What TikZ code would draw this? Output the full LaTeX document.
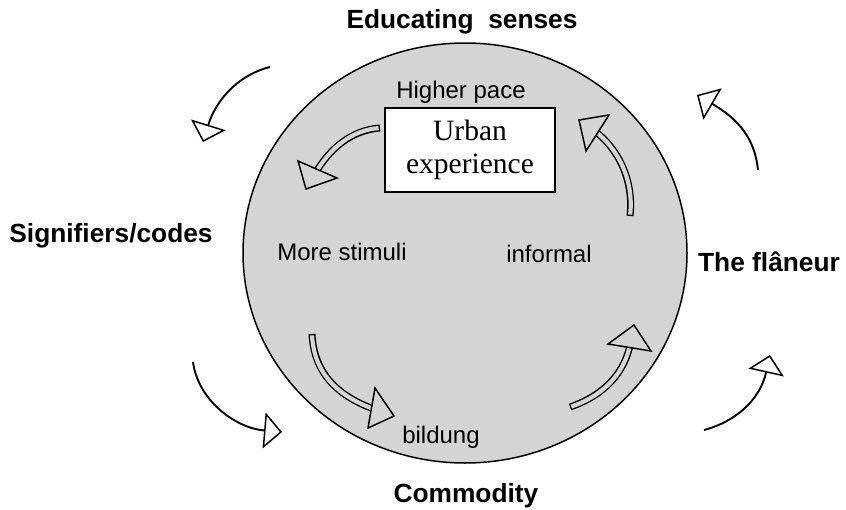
\documentclass[tikz,border=0pt]{standalone}
\usepackage{fontspec}
\setmainfont{Liberation Sans}
\newfontfamily\boxserif{Liberation Serif}
\usetikzlibrary{arrows.meta,shapes.geometric}
\definecolor{discgray}{gray}{0.83}

\begin{document}
\begin{tikzpicture}[x=1pt,y=-1pt,
  disc/.style={ellipse, draw=black, fill=discgray, line width=1.5pt,
    minimum width=444pt, minimum height=420pt, inner sep=0pt},
  urbanbox/.style={rectangle, draw=black, fill=white, line width=1.5pt,
    minimum width=170pt, minimum height=84pt, inner sep=0pt, align=center,
    font=\boxserif\fontsize{29.5}{33}\selectfont},
  outerlabel/.style={anchor=base, inner sep=0pt, font=\bfseries\fontsize{26.3}{31}\selectfont},
  innerlabel/.style={anchor=base, inner sep=0pt, font=\fontsize{24}{28}\selectfont},
  cyclearrow/.style={line width=1.9pt,
    -{Triangle[open, fill=white, length=18pt, width=36pt, line width=1.5pt]}},
  hollowshaft/.style={line width=7pt,
    postaction={draw=discgray, line width=4.2pt, shorten <=1.4pt}},
  hollowhead/.style={draw=black, fill=discgray, line width=1.5pt, line join=miter},
]
\useasboundingbox (0,0) rectangle (846,509);

% central disc and the boxed core
\node[disc] (disc) at (465,253) {};
\node[urbanbox] (urban) at (470,150) {Urban\\experience};

% labels around the disc
\node[outerlabel] (educ)    at (462,28)  {Educating\ \ senses};
\node[outerlabel] (signs)   at (111,242) {Signifiers/codes};
\node[outerlabel] (flaneur) at (769,271) {The flâneur};
\node[outerlabel] (commod)  at (466,502) {Commodity};

% labels inside the disc
\node[innerlabel] (pace)     at (461,98)  {Higher pace};
\node[innerlabel] (stimuli)  at (342,260) {More stimuli};
\node[innerlabel] (informal) at (549,262) {informal};
\node[innerlabel] (bildung)  at (441,443) {bildung};

% outer cycle arrows
\coordinate (o1s) at (270,67);  \coordinate (o1e) at (203,142);
\coordinate (o2s) at (758,170); \coordinate (o2e) at (697,95);
\coordinate (o3s) at (193,362); \coordinate (o3e) at (282,432);
\coordinate (o4s) at (704,430); \coordinate (o4e) at (770,355);
\draw[cyclearrow] (o1s) .. controls (238,75) and (216,100) .. (o1e);
\draw[cyclearrow] (o2s) .. controls (755,140) and (740,120) .. (o2e);
\draw[cyclearrow] (o3s) .. controls (198,400) and (235,428) .. (o3e);
\draw[cyclearrow] (o4s) .. controls (735,422) and (760,400) .. (o4e);

% inner hollow arrows: shafts
\coordinate (i1s) at (380,128);   \coordinate (i1e) at (315.5,173);
\coordinate (i2s) at (630,216);   \coordinate (i2e) at (594,130.5);
\coordinate (i3s) at (312,334);   \coordinate (i3e) at (375,409.5);
\coordinate (i4s) at (570,407);   \coordinate (i4e) at (630.3,343.5);
\draw[hollowshaft] (i1s) .. controls (352,130) and (330,148) .. (i1e);
\draw[hollowshaft] (i2s) .. controls (634,180) and (618,148) .. (i2e);
\draw[hollowshaft] (i3s) .. controls (314,375) and (340,397) .. (i3e);
\draw[hollowshaft] (i4s) .. controls (605,395) and (625,372) .. (i4e);

% inner hollow arrows: heads
\coordinate (i1a) at (298,161); \coordinate (i1t) at (306,189); \coordinate (i1b) at (337,178);
\coordinate (i2a) at (609,115); \coordinate (i2t) at (579,120); \coordinate (i2b) at (586,151);
\coordinate (i3a) at (375,388); \coordinate (i3t) at (394,416); \coordinate (i3b) at (368,428);
\coordinate (i4a) at (608,344); \coordinate (i4t) at (634,325); \coordinate (i4b) at (651,351);
\draw[hollowhead] (i1a) -- (i1t) -- (i1b) -- cycle;
\draw[hollowhead] (i2a) -- (i2t) -- (i2b) -- cycle;
\draw[hollowhead] (i3a) -- (i3t) -- (i3b) -- cycle;
\draw[hollowhead] (i4a) -- (i4t) -- (i4b) -- cycle;
\end{tikzpicture}
\end{document}
